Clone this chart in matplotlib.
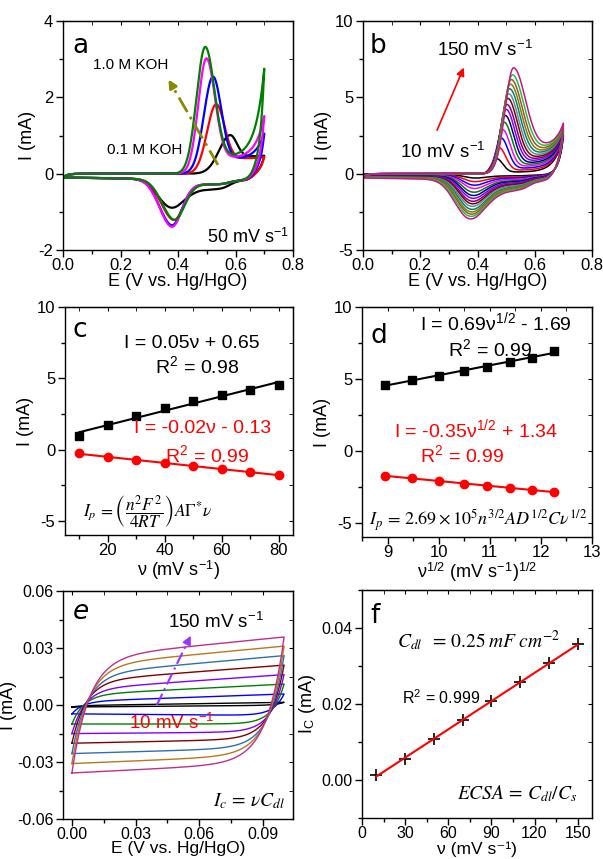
import matplotlib
matplotlib.use('Agg')
import matplotlib.pyplot as plt
import numpy as np
from matplotlib.ticker import MultipleLocator, FormatStrFormatter, NullFormatter

plt.rcParams['font.family'] = ['Liberation Sans', 'DejaVu Sans']
plt.rcParams['mathtext.fontset'] = 'stix'
plt.rcParams['axes.unicode_minus'] = False

# ---------------- data ----------------
# (a) CVs at 50 mV/s in 0.1 ... 1.0 M KOH
a_colors = ['black', '#ff0000', '#0000ff', '#ff00ff', '#008000']
a_epa = [0.582, 0.533, 0.522, 0.499, 0.495]      # anodic peak potential (V)
a_ipa = [1.01, 1.82, 2.54, 3.02, 3.32]           # anodic peak current (mA)
a_sl = [0.055, 0.045, 0.045, 0.040, 0.043]       # rising width
a_sr = [0.032, 0.040, 0.040, 0.042, 0.045]       # falling width
a_valley = [0.45, 0.40, 0.37, 0.40, 0.42]        # current after the peak
a_end = [0.47, 0.44, 1.05, 1.51, 2.75]           # current at 0.7 V
a_epc = [0.365, 0.383, 0.377, 0.377, 0.386]      # cathodic peak potential
a_ipc = [-0.86, -1.21, -1.35, -1.39, -1.21]      # cathodic peak current
a_sch = [0.07, 0.05, 0.05, 0.05, 0.05]
a_sh = [0.25, 0.12, 0.12, 0.12, 0.12]

# (b) CVs at 10 ... 150 mV/s
b_rates = [10, 20, 30, 40, 50, 60, 70, 80, 90, 100, 110, 120, 130, 140, 150]
b_colors = ['#000000', '#ff0000', '#0000ff', '#ff00ff', '#008000', '#000080', '#8000ff',
            '#800080', '#800000', '#5f8f8f', '#008080', '#808000', '#a0522d', '#22c040', '#c71585']
b_epa = [0.467, 0.476, 0.483, 0.488, 0.493, 0.497, 0.500, 0.503, 0.506,
         0.509, 0.512, 0.515, 0.518, 0.522, 0.526]
b_valley = [0.10, 0.22, 0.34, 0.46, 0.57, 0.68, 0.80, 0.91, 1.02,
            1.13, 1.25, 1.36, 1.48, 1.59, 1.70]
b_end = [2.45, 2.51, 2.57, 2.63, 2.69, 2.75, 2.81, 2.87, 2.93,
         2.99, 3.05, 3.11, 3.17, 3.23, 3.30]
b_epc = [0.385, 0.383, 0.381, 0.380, 0.378, 0.376, 0.375, 0.373, 0.372,
         0.370, 0.369, 0.367, 0.366, 0.364, 0.362]
b_base = [0.05, 0.07, 0.08, 0.10, 0.12, 0.13, 0.15, 0.17, 0.18,
          0.20, 0.22, 0.23, 0.25, 0.26, 0.28]

# (c) peak currents vs scan rate (10-80 mV/s)
c_rate = [10, 20, 30, 40, 50, 60, 70, 80]
c_ipa = [0.98, 1.70, 2.33, 2.88, 3.37, 3.81, 4.21, 4.53]
c_ipc = [-0.28, -0.51, -0.74, -0.95, -1.19, -1.40, -1.58, -1.77]

# (d) peak currents vs sqrt(scan rate) (80-150 mV/s)
d_rate = [80, 90, 100, 110, 120, 130, 140, 150]
d_ipa = [4.56, 4.93, 5.23, 5.56, 5.86, 6.16, 6.47, 6.93]
d_ipc = [-1.74, -1.93, -2.09, -2.28, -2.44, -2.58, -2.72, -2.88]

# (e) double-layer CVs
e_rates = [10, 30, 50, 70, 90, 110, 130, 150]
e_colors = ['black', '#0000ff', '#008000', '#8000ff', '#800000', '#2f6eb0', '#b87820', '#c0308a']
e_top_lo = [0.0002, 0.0030, 0.0070, 0.0105, 0.0150, 0.0190, 0.0236, 0.0280]   # at 0.03 V
e_top_hi = [0.0014, 0.0058, 0.0110, 0.0160, 0.0210, 0.0260, 0.0310, 0.0358]   # at 0.10 V
e_bot_lo = [-0.0010, -0.0047, -0.0100, -0.0150, -0.0200, -0.0254, -0.0306, -0.0355]  # at 0.005 V
e_bot_hi = [-0.0005, -0.0052, -0.0100, -0.0145, -0.0187, -0.0236, -0.0280, -0.0324]  # at 0.06 V
e_tau = [0.004, 0.005, 0.0055, 0.006, 0.0065, 0.007, 0.0075, 0.008]

# (f) capacitive current vs scan rate
f_rate = [10, 30, 50, 70, 90, 110, 130, 150]
f_ic = [0.0013, 0.0056, 0.0107, 0.0158, 0.0207, 0.0257, 0.0307, 0.0357]


def redox_cv(epa, ipa, sl, sr, valley, end, epc, ipc, scl, sch, b0, sh):
    Ef = np.linspace(0, 0.7, 500)
    Er = np.linspace(0.7, 0, 500)
    fwd = np.where(Ef < epa, ipa * np.exp(-((Ef - epa) / sl) ** 2),
                   valley + (ipa - valley) * np.exp(-((Ef - epa) / sr) ** 2))
    fwd = fwd + (end - valley) * np.exp((Ef - 0.7) / 0.03) - b0 * np.exp(-Ef / 0.015)

    def others(E):
        base = -b0 * (1 + 1.2 * E) * 0.5 * (1 - np.tanh((E - 0.66) / 0.02))
        shoulder = sh * 0.5 * (1 - np.tanh((E - 0.58) / 0.03)) * 0.5 * (1 + np.tanh((E - epc) / 0.03))
        return base - shoulder + end * np.exp((E - 0.7) / 0.015)

    amp = others(epc) - ipc
    gauss = np.where(Er < epc, np.exp(-((Er - epc) / scl) ** 2), np.exp(-((Er - epc) / sch) ** 2))
    rev = others(Er) - amp * gauss
    return np.concatenate([Ef, Er]), np.concatenate([fwd, rev])


def style(ax, xmaj, ymaj, xfmt=None, yfmt=None, size=12):
    ax.xaxis.set_major_locator(MultipleLocator(xmaj))
    ax.xaxis.set_minor_locator(MultipleLocator(xmaj / 2))
    ax.yaxis.set_major_locator(MultipleLocator(ymaj))
    ax.yaxis.set_minor_locator(MultipleLocator(ymaj / 2))
    if xfmt:
        ax.xaxis.set_major_formatter(FormatStrFormatter(xfmt))
    if yfmt:
        ax.yaxis.set_major_formatter(FormatStrFormatter(yfmt))
    ax.tick_params(which='both', direction='out', labelsize=size, width=1, pad=2)
    ax.tick_params(axis='x', pad=1)
    ax.tick_params(which='major', length=5)
    ax.tick_params(which='minor', length=3)
    for s in ax.spines.values():
        s.set_linewidth(1)
    sx = ax.secondary_xaxis('top')
    sx.xaxis.set_major_locator(MultipleLocator(xmaj))
    sx.xaxis.set_minor_locator(MultipleLocator(xmaj / 2))
    sx.xaxis.set_major_formatter(NullFormatter())
    sx.tick_params(which='both', direction='in', length=3)
    sy = ax.secondary_yaxis('right')
    sy.yaxis.set_major_locator(MultipleLocator(ymaj))
    sy.yaxis.set_minor_locator(MultipleLocator(ymaj / 2))
    sy.yaxis.set_major_formatter(NullFormatter())
    sy.tick_params(which='both', direction='in', length=3)


def arrow(ax, x0, y0, x1, y1, color, ls, lw):
    ax.plot([x0, x0 + 0.9 * (x1 - x0)], [y0, y0 + 0.9 * (y1 - y0)], ls=ls, color=color, lw=lw)
    ax.annotate('', xy=(x1, y1), xytext=(x0 + 0.85 * (x1 - x0), y0 + 0.85 * (y1 - y0)),
                arrowprops=dict(arrowstyle='-|>', color=color, lw=lw, mutation_scale=12))


def letter(ax, x, y, s, style='normal'):
    ax.text(x, y, s, transform=ax.transAxes, fontsize=19, family='DejaVu Sans',
            style=style, va='baseline')


sup = lambda s: r'$^{\mathregular{' + s + '}}$'

fig = plt.figure(figsize=(6.03, 8.59), dpi=100)
W, H = 603, 859


def add_axes(l, t, r, b):
    return fig.add_axes([l / W, 1 - b / H, (r - l) / W, (b - t) / H])


# ---------------- (a) ----------------
ax = add_axes(63, 21, 293, 250)
for i in range(len(a_epa)):
    E, I = redox_cv(a_epa[i], a_ipa[i], a_sl[i], a_sr[i], a_valley[i], a_end[i],
                    a_epc[i], a_ipc[i], 0.06, a_sch[i], 0.10, a_sh[i])
    ax.plot(E, I, color=a_colors[i], lw=1.6)
ax.set_xlim(0, 0.8)
ax.set_ylim(-2, 4)
style(ax, 0.2, 2, xfmt='%.1f')
ax.set_xlabel('E (V vs. Hg/HgO)', fontsize=13, labelpad=0)
ax.set_ylabel('I (mA)', fontsize=13, labelpad=2)
letter(ax, 0.04, 0.86, 'a')
ax.text(0.104, 2.85, '1.0 M KOH', fontsize=11, va='center')
ax.text(0.153, 0.62, '0.1 M KOH', fontsize=11, va='center')
ax.text(0.50, -1.66, '50 mV s' + sup('-1'), fontsize=13, va='center')
arrow(ax, 0.539, 0.23, 0.362, 2.53, '#8a8a00', (0, (6, 2, 1, 2)), 2)

# ---------------- (b) ----------------
ax = add_axes(363, 21, 592, 250)
b_ipa = c_ipa + d_ipa[1:]
b_ipc = c_ipc + d_ipc[1:]
n = len(b_rates)
for i in range(n):
    k = i / (n - 1)
    E, I = redox_cv(b_epa[i], b_ipa[i], 0.025 + 0.017 * k, 0.030 + 0.028 * k, b_valley[i],
                    b_end[i], b_epc[i], b_ipc[i], 0.045 + 0.02 * k, 0.06 + 0.025 * k,
                    b_base[i], 0.22 * abs(b_ipc[i]))
    ax.plot(E, I, color=b_colors[i], lw=1.1)
ax.set_xlim(0, 0.8)
ax.set_ylim(-5, 10)
style(ax, 0.2, 5, xfmt='%.1f')
ax.set_xlabel('E (V vs. Hg/HgO)', fontsize=13, labelpad=0)
ax.set_ylabel('I (mA)', fontsize=13, labelpad=2)
letter(ax, 0.03, 0.86, 'b')
ax.text(0.259, 8.1, '150 mV s' + sup('-1'), fontsize=13.5, va='center')
ax.text(0.129, 1.42, '10 mV s' + sup('-1'), fontsize=13.5, va='center')
arrow(ax, 0.259, 2.86, 0.356, 7.12, 'red', '-', 1.2)

# ---------------- (c) ----------------
ax = add_axes(65, 307, 293, 535)
ax.plot(c_rate, c_ipa, 's', color='black', ms=6)
ax.plot(c_rate, c_ipc, 'o', color='red', ms=6)
for y, col in [(c_ipa, 'black'), (c_ipc, 'red')]:
    p = np.polyfit(c_rate, y, 1)
    ax.plot(c_rate, np.polyval(p, c_rate), color=col, lw=1.5)
ax.set_xlim(5, 85)
ax.set_ylim(-6, 10)
style(ax, 20, 5)
ax.set_xlabel('ν (mV s' + sup('-1') + ')', fontsize=13, labelpad=0)
ax.set_ylabel('I (mA)', fontsize=13, labelpad=2)
letter(ax, 0.035, 0.868, 'c')
ax.text(49.6, 7.47, 'I = 0.05ν + 0.65', fontsize=14, ha='center', va='center')
ax.text(51.3, 5.79, 'R' + sup('2') + ' = 0.98', fontsize=14, ha='center', va='center')
ax.text(53.4, 1.44, 'I = -0.02ν - 0.13', fontsize=14, ha='center', va='center', color='red')
ax.text(54.9, -0.46, 'R' + sup('2') + ' = 0.99', fontsize=14, ha='center', va='center', color='red')
ax.text(11.3, -4.4, r'$I_p\,=\left(\dfrac{n^2F^2}{4RT}\right)A\Gamma^{*}\nu$', fontsize=12.5, va='center')

# ---------------- (d) ----------------
ax = add_axes(362, 307, 592, 537)
d_x = np.sqrt(d_rate)
ax.plot(d_x, d_ipa, 's', color='black', ms=6)
ax.plot(d_x, d_ipc, 'o', color='red', ms=6)
for y, col in [(d_ipa, 'black'), (d_ipc, 'red')]:
    p = np.polyfit(d_x, y, 1)
    ax.plot(d_x, np.polyval(p, d_x), color=col, lw=1.5)
ax.set_xlim(8.5, 13)
ax.set_ylim(-6, 10)
style(ax, 1, 5)
ax.set_xlabel('ν' + sup('1/2') + ' (mV s' + sup('-1') + ')' + sup('1/2'), fontsize=13, labelpad=0)
ax.set_ylabel('I (mA)', fontsize=13, labelpad=2)
letter(ax, 0.035, 0.843, 'd')
ax.text(11.13, 8.9, 'I = 0.69ν' + sup('1/2') + ' - 1.69', fontsize=14, ha='center', va='center')
ax.text(11.01, 7.0, 'R' + sup('2') + ' = 0.99', fontsize=14, ha='center', va='center')
ax.text(10.72, 1.46, 'I = -0.35ν' + sup('1/2') + ' + 1.34', fontsize=14, ha='center', va='center', color='red')
ax.text(10.46, -0.35, 'R' + sup('2') + ' = 0.99', fontsize=14, ha='center', va='center', color='red')
ax.text(8.64, -4.8, r'$I_p\,=\,2.69\times10^5n^{3/2}AD^{1/2}C\nu^{1/2}$', fontsize=13, va='center')

# ---------------- (e) ----------------
ax = add_axes(63, 591, 293, 819)
for i in range(len(e_rates)):
    Ef = np.linspace(0, 0.1, 300)
    Er = np.linspace(0.1, 0, 300)
    top = lambda E: e_top_lo[i] + (e_top_hi[i] - e_top_lo[i]) * (E - 0.03) / 0.07
    bot = lambda E: -(e_bot_lo[i] + (e_bot_hi[i] - e_bot_lo[i]) * (E - 0.005) / 0.055)
    fwd = top(Ef) - (top(Ef) + bot(0)) * np.exp(-Ef / e_tau[i])
    rev = -bot(Er) + (bot(Er) + top(0.1)) * np.exp(-(0.1 - Er) / e_tau[i])
    ax.plot(np.concatenate([Ef, Er]), np.concatenate([fwd, rev]), color=e_colors[i], lw=1.0)
ax.set_xlim(-0.0042, 0.1042)
ax.set_ylim(-0.06, 0.06)
style(ax, 0.03, 0.03, xfmt='%.2f', yfmt='%.2f', size=11.5)
ax.set_xlabel('E (V vs. Hg/HgO)', fontsize=12.5, labelpad=-1)
ax.set_ylabel('I (mA)', fontsize=13, labelpad=0)
letter(ax, 0.043, 0.877, 'e', style='italic')
ax.text(0.0453, 0.0436, '150 mV s' + sup('-1'), fontsize=13.5, va='center')
ax.text(0.0269, -0.0092, '10 mV s' + sup('-1'), fontsize=13.5, va='center', color='red')
ax.text(0.1005, -0.0505, r'$I_c\,=\,\nu C_{dl}$', fontsize=14, ha='right', va='center')
arrow(ax, 0.040, 0.0, 0.0566, 0.0378, '#9933ff', (0, (6, 2, 1, 2)), 1.5)

# ---------------- (f) ----------------
ax = add_axes(362, 590, 592, 818)
ax.plot(f_rate, f_ic, '+', color='black', ms=8, mew=1.2)
p = np.polyfit(f_rate, f_ic, 1)
ax.plot(f_rate, np.polyval(p, f_rate), color='red', lw=1.5)
ax.set_xlim(0, 160)
ax.set_ylim(-0.01, 0.05)
style(ax, 30, 0.02, yfmt='%.2f', size=11.5)
fig.text(477 / W, 1 - 854 / H, 'ν (mV s⁻¹)', fontsize=12.5, ha='center', va='baseline')
ax.set_ylabel('I' + r'$_{\mathregular{C}}$' + ' (mA)', fontsize=13, labelpad=2)
letter(ax, 0.035, 0.855, 'f')
ax.text(24.3, 0.0368, r'$C_{dl}\;\;=\,0.25\;mF\;cm^{-2}$', fontsize=14, va='center')
ax.text(27.8, 0.0218, 'R' + sup('2') + ' = 0.999', fontsize=11.5, va='center')
ax.text(66, -0.0037, r'$ECSA\,=\,C_{dl}/C_s$', fontsize=14, va='center')

fig.savefig('out.png', dpi=100)
